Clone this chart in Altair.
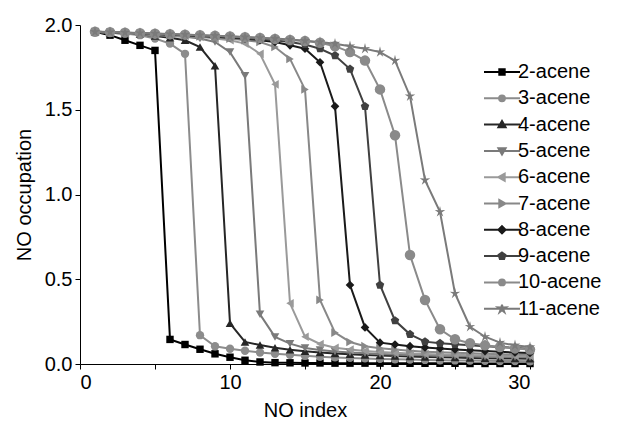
import altair as alt
import pandas as pd

series_names = ["2-acene", "3-acene", "4-acene", "5-acene", "6-acene",
                "7-acene", "8-acene", "9-acene", "10-acene", "11-acene"]
no_index = list(range(1, 31))

acene2 = [1.96, 1.94, 1.91, 1.88, 1.85, 0.145, 0.115, 0.087, 0.06, 0.04, 0.022, 0.012, 0.008, 0.007, 0.006,
          0.006, 0.005, 0.005, 0.005, 0.005, 0.004, 0.004, 0.004, 0.004, 0.004, 0.003, 0.003, 0.003, 0.003, 0.003]
acene3 = [1.96, 1.955, 1.95, 1.94, 1.92, 1.89, 1.83, 0.17, 0.105, 0.09, 0.078, 0.068, 0.06, 0.054, 0.048,
          0.043, 0.039, 0.036, 0.033, 0.03, 0.028, 0.026, 0.024, 0.022, 0.021, 0.02, 0.019, 0.018, 0.017, 0.016]
acene4 = [1.96, 1.955, 1.95, 1.945, 1.935, 1.925, 1.91, 1.87, 1.76, 0.24, 0.13, 0.112, 0.096, 0.084, 0.075,
          0.068, 0.062, 0.057, 0.053, 0.05, 0.047, 0.044, 0.042, 0.04, 0.038, 0.036, 0.034, 0.033, 0.032, 0.031]
acene5 = [1.96, 1.955, 1.95, 1.945, 1.94, 1.935, 1.93, 1.92, 1.9, 1.84, 1.7, 0.293, 0.16, 0.12, 0.095,
          0.082, 0.074, 0.068, 0.063, 0.059, 0.056, 0.053, 0.051, 0.049, 0.047, 0.045, 0.043, 0.042, 0.041, 0.04]
acene6 = [1.96, 1.955, 1.95, 1.947, 1.943, 1.94, 1.935, 1.93, 1.92, 1.91, 1.89, 1.83, 1.65, 0.358, 0.161,
          0.118, 0.096, 0.085, 0.077, 0.071, 0.066, 0.062, 0.059, 0.056, 0.054, 0.052, 0.05, 0.048, 0.047, 0.046]
acene7 = [1.96, 1.957, 1.953, 1.95, 1.946, 1.942, 1.938, 1.933, 1.927, 1.92, 1.91, 1.9, 1.87, 1.8, 1.62,
          0.378, 0.185, 0.13, 0.105, 0.093, 0.085, 0.078, 0.073, 0.069, 0.066, 0.063, 0.06, 0.058, 0.056, 0.054]
acene8 = [1.96, 1.957, 1.954, 1.95, 1.947, 1.943, 1.94, 1.935, 1.93, 1.925, 1.92, 1.91, 1.9, 1.88, 1.86,
          1.78, 1.52, 0.466, 0.216, 0.126, 0.115, 0.105, 0.098, 0.092, 0.086, 0.081, 0.076, 0.072, 0.068, 0.065]
acene9 = [1.96, 1.957, 1.954, 1.951, 1.948, 1.945, 1.941, 1.937, 1.933, 1.928, 1.923, 1.917, 1.91, 1.9, 1.885,
          1.86, 1.82, 1.74, 1.52, 0.466, 0.256, 0.175, 0.132, 0.122, 0.116, 0.11, 0.105, 0.1, 0.095, 0.09]
acene10 = [1.96, 1.958, 1.955, 1.952, 1.949, 1.946, 1.943, 1.94, 1.936, 1.932, 1.928, 1.923, 1.918, 1.912, 1.905,
           1.895, 1.875, 1.84, 1.79, 1.62, 1.35, 0.643, 0.378, 0.205, 0.146, 0.122, 0.11, 0.1, 0.092, 0.085]
acene11 = [1.96, 1.958, 1.956, 1.953, 1.95, 1.947, 1.944, 1.94, 1.937, 1.933, 1.929, 1.925, 1.92, 1.914, 1.907,
           1.9, 1.89, 1.875, 1.86, 1.84, 1.79, 1.58, 1.085, 0.898, 0.416, 0.22, 0.161, 0.126, 0.11, 0.1]

all_values = [acene2, acene3, acene4, acene5, acene6, acene7, acene8, acene9, acene10, acene11]

series_colors = ["#000000", "#8c8c8c", "#262626", "#7a7a7a", "#9a9a9a",
                 "#888888", "#1a1a1a", "#404040", "#8a8a8a", "#7a7a7a"]

pent = "M0,-1L0.95,-0.31L0.59,0.81L-0.59,0.81L-0.95,-0.31Z"
star = "M0,-1.1L0.2,-0.3L1,-0.34L0.34,0.12L0.62,0.9L0,0.4L-0.62,0.9L-0.34,0.12L-1,-0.34L-0.2,-0.3Z"
plot_shapes = ["square", "circle", "triangle-up", "triangle-down", "triangle-left",
               "triangle-right", "diamond", pent, "circle", star]
plot_sizes = [55, 70, 75, 75, 75, 75, 75, 80, 110, 110]

seg = "M-4,0H4"
circ = "M0.65,0A0.65,0.65,0,1,1,-0.65,0A0.65,0.65,0,1,1,0.65,0Z"
legend_shapes = [
    seg + "M-0.6,-0.6H0.6V0.6H-0.6Z",
    seg + circ,
    seg + "M0,-0.8L0.8,0.6H-0.8Z",
    seg + "M0,0.8L0.8,-0.6H-0.8Z",
    seg + "M-0.8,0L0.6,-0.8V0.8Z",
    seg + "M0.8,0L-0.6,-0.8V0.8Z",
    seg + "M0,-0.8L0.8,0L0,0.8L-0.8,0Z",
    seg + "M0,-0.8L0.76,-0.25L0.47,0.65L-0.47,0.65L-0.76,-0.25Z",
    seg + circ,
    seg + "M0,-0.9L0.16,-0.24L0.82,-0.27L0.27,0.09L0.5,0.72L0,0.32L-0.5,0.72L-0.27,0.09L-0.82,-0.27L-0.16,-0.24Z",
]

rows = []
for name, vals in zip(series_names, all_values):
    for xi, v in zip(no_index, vals):
        rows.append({"series": name, "idx": xi, "occ": v})
df = pd.DataFrame(rows)

FONT = "Liberation Sans"

x_enc = alt.X("idx:Q", scale=alt.Scale(domain=[0, 30], nice=False),
              axis=alt.Axis(title="NO index", values=[0, 5, 10, 15, 20, 25, 30],
                            labelExpr="datum.value % 10 == 0 ? datum.label : ''",
                            grid=False, tickSize=5, labelPadding=3, titlePadding=8))
y_enc = alt.Y("occ:Q", scale=alt.Scale(domain=[0, 2], nice=False),
              axis=alt.Axis(title="NO occupation", values=[0, 0.5, 1.0, 1.5, 2.0], format=".1f",
                            grid=False, tickSize=5, labelPadding=3, titlePadding=10))

lines = alt.Chart(df).mark_line(strokeWidth=2).encode(
    x=x_enc, y=y_enc,
    stroke=alt.Stroke("series:N", scale=alt.Scale(domain=series_names, range=series_colors), legend=None),
    order=alt.Order("idx:Q"),
)

point_layers = []
for name, col, shp, sz in zip(series_names, series_colors, plot_shapes, plot_sizes):
    point_layers.append(
        alt.Chart(df).transform_filter(alt.datum.series == name).mark_point(
            filled=True, opacity=1, shape=shp, size=sz, color=col
        ).encode(x=x_enc, y=y_enc)
    )

leg = alt.Legend(orient="none", legendX=412, legendY=37, title=None, symbolSize=81,
                 labelFontSize=20, labelFont=FONT, labelColor="black", labelOffset=6,
                 rowPadding=6.3, padding=0, symbolStrokeWidth=2, symbolOpacity=1)

legend_layer = alt.Chart(df).transform_filter("datum.idx == 1").mark_point(
    filled=True, strokeWidth=2, opacity=0).encode(
    x=x_enc, y=y_enc,
    color=alt.Color("series:N", scale=alt.Scale(domain=series_names, range=series_colors), legend=leg),
    stroke=alt.Stroke("series:N", legend=leg),
    shape=alt.Shape("series:N", scale=alt.Scale(domain=series_names, range=legend_shapes), legend=leg),
)

chart = alt.layer(legend_layer, lines, *point_layers).properties(
    width=450, height=339,
    autosize=alt.AutoSizeParams(type="none"),
    padding={"left": 72, "top": 17, "right": 80, "bottom": 62},
).configure(background="white").configure_view(stroke=None).configure_axis(
    labelFont=FONT, titleFont=FONT, labelFontSize=20, titleFontSize=20,
    labelColor="black", titleColor="black", titleFontWeight="normal",
    domainColor="black", tickColor="black", domainWidth=1, tickWidth=1,
)

chart.save("out.html", embed_options={"renderer": "svg", "actions": False})
